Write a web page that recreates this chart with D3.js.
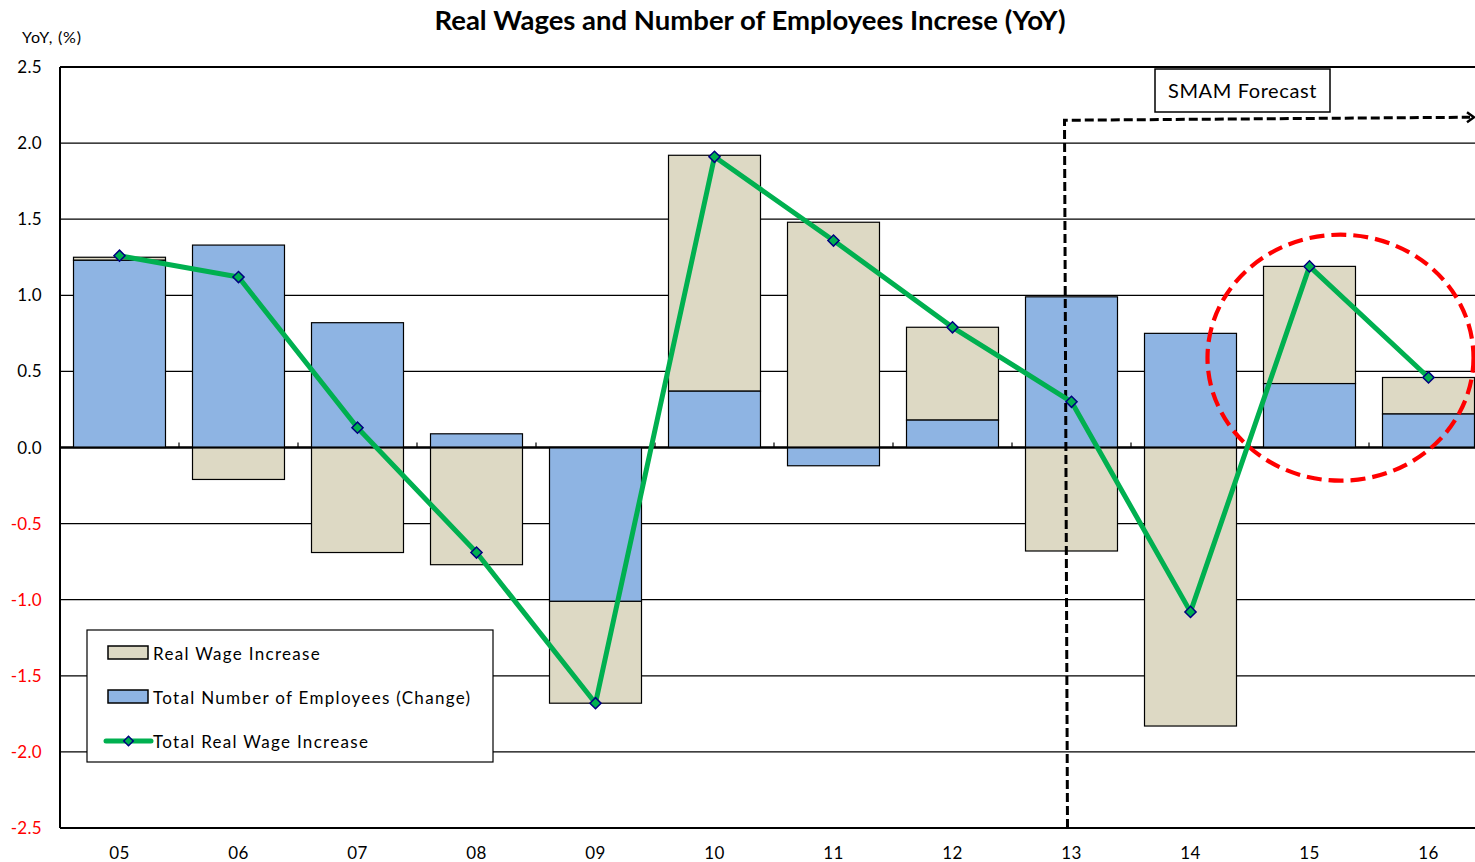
<!DOCTYPE html>
<html>
<head>
<meta charset="utf-8">
<script src="https://cdn.jsdelivr.net/npm/d3@7"></script>
<style>
  html, body { margin: 0; padding: 0; background: #fff; }
  svg { display: block; font-family: Lato, "Open Sans", sans-serif; }
</style>
</head>
<body>
<svg id="chart" width="1475" height="862"></svg>
<script>
// ---- data ----
const categories = ["05","06","07","08","09","10","11","12","13","14","15","16"];
const realWage =   [0.02, -0.21, -0.69, -0.77, -0.67, 1.55, 1.48, 0.61, -0.68, -1.83, 0.77, 0.24];
const employees =  [1.23, 1.33, 0.82, 0.09, -1.01, 0.37, -0.12, 0.18, 0.99, 0.75, 0.42, 0.22];
const totalReal =  [1.26, 1.12, 0.13, -0.69, -1.68, 1.91, 1.36, 0.79, 0.30, -1.08, 1.19, 0.46];
const yTicks = [2.5, 2.0, 1.5, 1.0, 0.5, 0.0, -0.5, -1.0, -1.5, -2.0, -2.5];
const seriesNames = ["Real Wage Increase", "Total Number of Employees (Change)", "Total Real Wage Increase"];
const titleText = "Real Wages and Number of Employees Increse (YoY)";
const yUnit = "YoY, (%)";
const forecastLabel = "SMAM Forecast";
const forecastStart = "13";

const colBeige = "#DDD9C4", colBlue = "#8EB4E3", colGreen = "#00B050", colMarker = "#000080";

const svg = d3.select("#chart");
const pL = 60, pT = 67, pB = 828, pR = 1488;

const x = d3.scaleBand().domain(categories).range([pL, pR]).paddingInner(0.227).paddingOuter(0.1135);
const y = d3.scaleLinear().domain([-2.5, 2.5]).range([pB, pT]);
const step = x.step();
const cx = c => x(c) + x.bandwidth() / 2;

// gridlines
svg.append("g").selectAll("line").data(yTicks).join("line")
  .attr("x1", pL).attr("x2", pR)
  .attr("y1", d => y(d)).attr("y2", d => y(d))
  .attr("stroke", "#000").attr("stroke-width", d => (d === 2.5 || d === -2.5 || d === 0) ? 2 : 1.2);

// stacked bars
const rows = categories.map((c, i) => {
  const e = employees[i], w = realWage[i];
  let eb = [0, e], wb;
  if ((e >= 0 && w >= 0) || (e < 0 && w < 0)) wb = [e, e + w];
  else wb = [0, w];
  return {c, eb, wb};
});
const gBars = svg.append("g");
rows.forEach(r => {
  gBars.append("rect")
    .attr("x", x(r.c)).attr("width", x.bandwidth())
    .attr("y", y(Math.max(...r.wb))).attr("height", Math.abs(y(r.wb[0]) - y(r.wb[1])))
    .attr("fill", colBeige).attr("stroke", "#000").attr("stroke-width", 1.2);
  gBars.append("rect")
    .attr("x", x(r.c)).attr("width", x.bandwidth())
    .attr("y", y(Math.max(...r.eb))).attr("height", Math.abs(y(r.eb[0]) - y(r.eb[1])))
    .attr("fill", colBlue).attr("stroke", "#000").attr("stroke-width", 1.2);
});

// zero line on top
svg.append("line").attr("x1", pL).attr("x2", pR).attr("y1", y(0)).attr("y2", y(0))
  .attr("stroke", "#000").attr("stroke-width", 2);
// category tick marks on zero line
svg.append("g").selectAll("line").data(categories.slice(1)).join("line")
  .attr("x1", d => x(d) - step * 0.1135).attr("x2", d => x(d) - step * 0.1135)
  .attr("y1", y(0)).attr("y2", y(0) - 5)
  .attr("stroke", "#000").attr("stroke-width", 1.2);

// left axis line
svg.append("line").attr("x1", pL).attr("x2", pL).attr("y1", pT).attr("y2", pB)
  .attr("stroke", "#000").attr("stroke-width", 2);

// y tick labels
svg.append("g").selectAll("text").data(yTicks).join("text")
  .attr("x", 42).attr("y", d => y(d) + 6)
  .attr("text-anchor", "end").attr("font-size", 17).attr("letter-spacing", 0.3)
  .attr("fill", d => d < 0 ? "#FF0000" : "#000")
  .text(d => d.toFixed(1));

// x labels
svg.append("g").selectAll("text").data(categories).join("text")
  .attr("x", d => cx(d)).attr("y", 859)
  .attr("text-anchor", "middle").attr("font-size", 17).attr("letter-spacing", 0.3).attr("fill", "#000")
  .text(d => d);

// forecast dashed bracket
const fx = cx(forecastStart) - 7;
svg.append("path")
  .attr("d", `M${fx + 3},${pB} L${fx},${y(2.15)} L1470,${y(2.17)}`)
  .attr("fill", "none").attr("stroke", "#000").attr("stroke-width", 3).attr("stroke-dasharray", "9,4");
svg.append("path")
  .attr("d", `M1467,${y(2.17) - 5} L1474,${y(2.17)} L1467,${y(2.17) + 5}`)
  .attr("fill", "none").attr("stroke", "#000").attr("stroke-width", 2.5);

// red dashed ellipse
svg.append("ellipse")
  .attr("cx", cx("15") + 31).attr("cy", y(0.59)).attr("rx", 133).attr("ry", 123)
  .attr("fill", "none").attr("stroke", "#FF0000").attr("stroke-width", 4.2).attr("stroke-dasharray", "15,7");

// forecast label box
const bx = 1155, by = 69;
svg.append("rect").attr("x", bx).attr("y", by).attr("width", 175).attr("height", 43)
  .attr("fill", "#fff").attr("stroke", "#000").attr("stroke-width", 1.5);
svg.append("text").attr("x", bx + 87.5).attr("y", by + 29).attr("text-anchor", "middle")
  .attr("font-size", 20).attr("letter-spacing", 0.6).attr("fill", "#000").text(forecastLabel);

// total line
const line = d3.line().x((d, i) => cx(categories[i])).y(d => y(d));
svg.append("path").datum(totalReal).attr("d", line)
  .attr("fill", "none").attr("stroke", colGreen).attr("stroke-width", 5).attr("stroke-linejoin", "round");
svg.append("g").selectAll("path").data(totalReal).join("path")
  .attr("transform", (d, i) => `translate(${cx(categories[i])},${y(d)}) rotate(45)`)
  .attr("d", d3.symbol().type(d3.symbolSquare).size(62))
  .attr("fill", colGreen).attr("stroke", colMarker).attr("stroke-width", 1.5);

// legend
const lg = svg.append("g");
lg.append("rect").attr("x", 87).attr("y", 630).attr("width", 406).attr("height", 132)
  .attr("fill", "#fff").attr("stroke", "#000").attr("stroke-width", 1.2);
lg.append("rect").attr("x", 108).attr("y", 646).attr("width", 40).attr("height", 13)
  .attr("fill", colBeige).attr("stroke", "#000").attr("stroke-width", 1.5);
lg.append("rect").attr("x", 108).attr("y", 690).attr("width", 40).attr("height", 13)
  .attr("fill", colBlue).attr("stroke", "#000").attr("stroke-width", 1.5);
lg.append("line").attr("x1", 106).attr("x2", 151).attr("y1", 741).attr("y2", 741)
  .attr("stroke", colGreen).attr("stroke-width", 5).attr("stroke-linecap", "round");
lg.append("path").attr("transform", "translate(128.5,741) rotate(45)")
  .attr("d", d3.symbol().type(d3.symbolSquare).size(45))
  .attr("fill", colGreen).attr("stroke", colMarker).attr("stroke-width", 1.5);
[[654, seriesNames[0]], [698, seriesNames[1]], [742, seriesNames[2]]].forEach(([ty, t]) => {
  lg.append("text").attr("x", 153).attr("y", ty + 6).attr("font-size", 17)
    .attr("letter-spacing", 1.3).attr("fill", "#000").text(t);
});

// title & unit
svg.append("text").attr("x", 750).attr("y", 30).attr("text-anchor", "middle")
  .attr("font-size", 27.5).attr("font-weight", "bold").attr("fill", "#000").text(titleText);
svg.append("text").attr("x", 22).attr("y", 43).attr("font-size", 16).attr("letter-spacing", 0.8)
  .attr("fill", "#000").text(yUnit);
</script>
</body>
</html>
